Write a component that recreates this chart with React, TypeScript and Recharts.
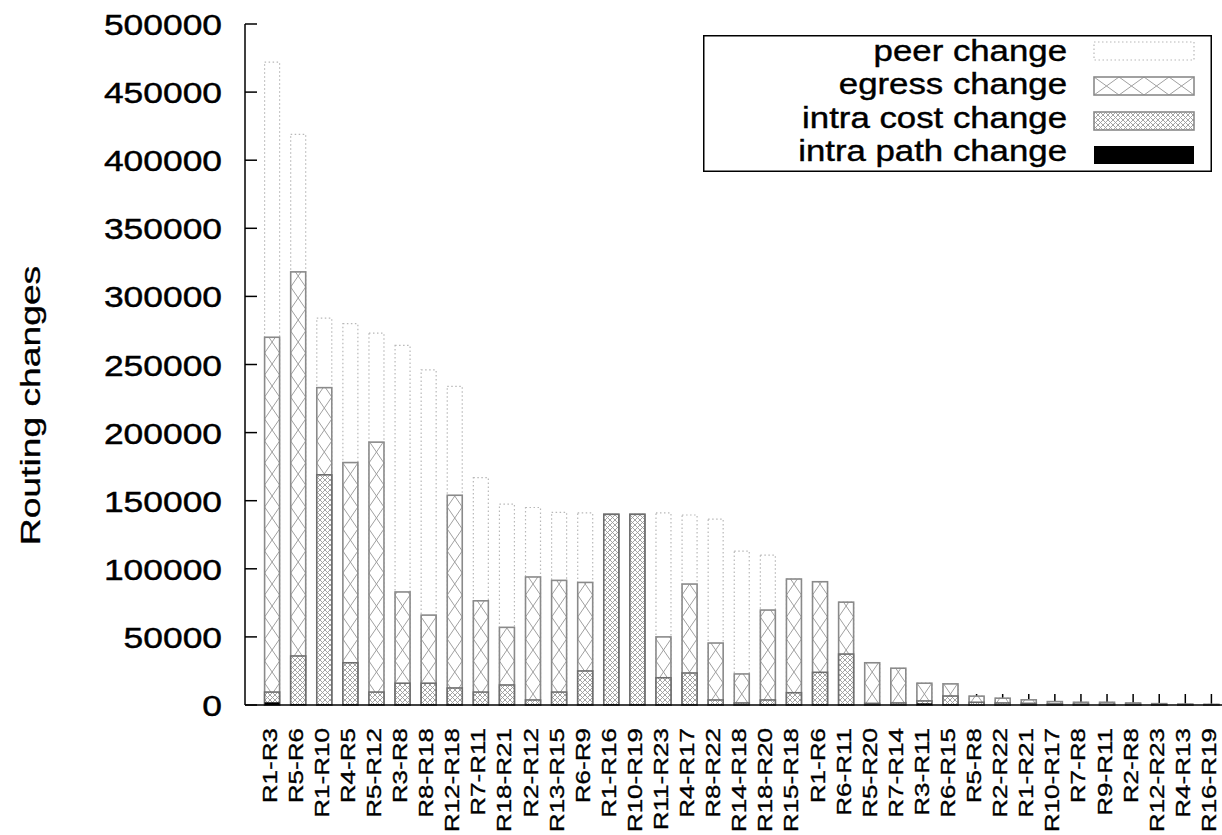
import React from "react"
import { BarChart, Bar, XAxis, YAxis, Legend } from "recharts"

const FONT = "'Liberation Sans', Arial, Helvetica, sans-serif"

const categories = [
  "R1-R3", "R5-R6", "R1-R10", "R4-R5", "R5-R12", "R3-R8", "R8-R18", "R12-R18", "R7-R11",
  "R18-R21", "R2-R12", "R13-R15", "R6-R9", "R1-R16", "R10-R19", "R11-R23", "R4-R17",
  "R8-R22", "R14-R18", "R18-R20", "R15-R18", "R1-R6", "R6-R11", "R5-R20", "R7-R14",
  "R3-R11", "R6-R15", "R5-R8", "R2-R22", "R1-R21", "R10-R17", "R7-R8", "R9-R11",
  "R2-R8", "R12-R23", "R4-R13", "R16-R19",
]

const peerChange = [
  472000, 419000, 284000, 280000, 273000, 264000, 246000, 234000, 167000,
  147500, 145000, 141500, 141000, 140000, 140000, 141000, 139500,
  136500, 113000, 110000, 92500, 90500, 75500, 31000, 27000,
  16000, 15500, 6500, 5000, 3800, 2500, 2000, 2000,
  1500, 1000, 700, 500,
]

const egressChange = [
  270000, 318000, 233000, 178000, 193000, 83000, 66000, 154000, 76500,
  57000, 94000, 91500, 90000, 140000, 140000, 50000, 88800,
  45500, 22800, 69700, 92500, 90500, 75500, 31000, 27000,
  16000, 15500, 6500, 5000, 3800, 2500, 2000, 2000,
  1500, 1000, 700, 500,
]

const intraCostChange = [
  9500, 36000, 169000, 31000, 9500, 16000, 16000, 12500, 9500,
  14700, 3700, 9500, 25000, 140000, 140000, 20000, 23500,
  3700, 1500, 3700, 9000, 24000, 37400, 1200, 1500,
  3000, 6600, 2000, 1500, 1200, 800, 600, 600,
  500, 300, 200, 150,
]

const intraPathChange = [
  2000, 500, 300, 300, 300, 200, 200, 200, 200,
  200, 200, 200, 200, 300, 300, 200, 200,
  200, 200, 200, 200, 200, 200, 200, 200,
  1200, 200, 100, 100, 100, 100, 100, 100,
  100, 100, 100, 100,
]

const yTicks = [0, 50000, 100000, 150000, 200000, 250000, 300000, 350000, 400000, 450000, 500000]

const data = categories.map((name, i) => ({
  name,
  peer: peerChange[i],
  egress: egressChange[i],
  intraCost: intraCostChange[i],
  intraPath: intraPathChange[i],
}))

// big X hatching of the egress bars, cells stacked from the bottom
function xCells(x: number, y: number, w: number, h: number, ch: number, stroke: string) {
  const lines = []
  const yb = y + h
  let k = 0
  for (let t = yb; t > y - ch; t -= ch) {
    lines.push(<line key={"a" + k} x1={x} y1={t} x2={x + w} y2={t - ch} stroke={stroke} strokeWidth={1} />)
    lines.push(<line key={"b" + k} x1={x + w} y1={t} x2={x} y2={t - ch} stroke={stroke} strokeWidth={1} />)
    k++
  }
  return lines
}

function xRowCells(x: number, y: number, w: number, h: number, cw: number, stroke: string) {
  const lines = []
  let k = 0
  for (let s = x; s < x + w; s += cw) {
    lines.push(<line key={"a" + k} x1={s} y1={y + h} x2={s + cw} y2={y} stroke={stroke} strokeWidth={1} />)
    lines.push(<line key={"b" + k} x1={s} y1={y} x2={s + cw} y2={y + h} stroke={stroke} strokeWidth={1} />)
    k++
  }
  return lines
}

// peer bars go first, so the inner x tick is drawn here and the bars on top hide it
const PeerShape = (props: any) => {
  const { x, y, width, height } = props
  if (!height || height <= 0) return null
  const cx = x + width / 2
  const base = y + height
  return (
    <g>
      <line x1={cx} y1={base} x2={cx} y2={base - 11} stroke="#000" strokeWidth={1.5} />
      <rect x={x} y={y} width={width} height={height} fill="none"
        stroke="#b8b8b8" strokeWidth={1.2} strokeDasharray="1.5 2.5" />
    </g>
  )
}

const EgressShape = (props: any) => {
  const { x, y, width, height, index } = props
  if (!height || height <= 0) return null
  const id = `eg-clip-${index}`
  return (
    <g>
      <clipPath id={id}>
        <rect x={x} y={y} width={width} height={height} />
      </clipPath>
      <rect x={x} y={y} width={width} height={height} fill="#fff" />
      <g clipPath={`url(#${id})`}>{xCells(x, y, width, height, 22, "#a0a0a0")}</g>
      <rect x={x} y={y} width={width} height={height} fill="none" stroke="#8a8a8a" strokeWidth={1.6} />
    </g>
  )
}

const IntraCostShape = (props: any) => {
  const { x, y, width, height } = props
  if (!height || height <= 0) return null
  return (
    <g>
      <rect x={x} y={y} width={width} height={height} fill="url(#denseHatch)" />
      <rect x={x} y={y} width={width} height={height} fill="none" stroke="#6e6e6e" strokeWidth={1.6} />
    </g>
  )
}

const BottomTick = (props: any) => {
  const { x, y, payload } = props
  return (
    <text
      transform={`translate(${x + 5},${y + 23}) rotate(-90) scale(1.27,1)`}
      textAnchor="end" fontFamily={FONT} fontSize={20.5} fill="#000"
      stroke="#000" strokeWidth={0.35}
    >
      {payload.value}
    </text>
  )
}

const TopTick = (props: any) => {
  const { x, y } = props
  return <line x1={x} y1={y} x2={x} y2={y + 11} stroke="#000" strokeWidth={1.5} />
}

const LeftTick = (props: any) => {
  const { x, y, payload } = props
  return (
    <g>
      <line x1={x} y1={y} x2={x + 12} y2={y} stroke="#000" strokeWidth={1.5} />
      <text
        transform={`translate(${x - 23},${y + 11}) scale(1.18,1)`}
        textAnchor="end" fontFamily={FONT} fontSize={30} fill="#000"
        stroke="#000" strokeWidth={0.45}
      >
        {payload.value}
      </text>
    </g>
  )
}

const renderYTitle = (props: any) => {
  const vb = props.viewBox || { x: 0, y: 24, width: 245, height: 681 }
  const cy = vb.y + vb.height / 2 + 41
  return (
    <text
      transform={`translate(40,${cy}) rotate(-90) scale(1.38,1)`}
      textAnchor="middle" fontFamily={FONT} fontSize={27} fill="#000"
      stroke="#000" strokeWidth={0.3}
    >
      Routing changes
    </text>
  )
}

const legendRows = [
  { label: "peer change", kind: "peer" },
  { label: "egress change", kind: "egress" },
  { label: "intra cost change", kind: "cost" },
  { label: "intra path change", kind: "path" },
]

function LegendBox() {
  const baselines = [26, 59, 93, 126]
  const swatchY = [7, 42, 77, 111]
  return (
    <svg width={510} height={138} style={{ display: "block" }}>
      <rect x={0.75} y={0.75} width={507.5} height={135.5} fill="#fff" stroke="#000" strokeWidth={1.5} />
      {legendRows.map((r, i) => {
        const sx = 391, sw = 100, sh = 18, sy = swatchY[i]
        let swatch = null
        if (r.kind === "peer") {
          swatch = <rect x={sx} y={sy} width={sw} height={sh} fill="none" stroke="#b8b8b8" strokeWidth={1.2} strokeDasharray="1.5 2.5" />
        } else if (r.kind === "egress") {
          swatch = (
            <g>
              <clipPath id="lg-eg-clip"><rect x={sx} y={sy} width={sw} height={sh} /></clipPath>
              <g clipPath="url(#lg-eg-clip)">{xRowCells(sx, sy, sw, sh, 25, "#a0a0a0")}</g>
              <rect x={sx} y={sy} width={sw} height={sh} fill="none" stroke="#8a8a8a" strokeWidth={1.6} />
            </g>
          )
        } else if (r.kind === "cost") {
          swatch = (
            <g>
              <rect x={sx} y={sy} width={sw} height={sh} fill="url(#denseHatch)" />
              <rect x={sx} y={sy} width={sw} height={sh} fill="none" stroke="#8a8a8a" strokeWidth={1.6} />
            </g>
          )
        } else {
          swatch = <rect x={sx} y={sy} width={sw} height={sh} fill="#000" />
        }
        return (
          <g key={r.label}>
            <text
              transform={`translate(364,${baselines[i]}) scale(1.2,1)`}
              textAnchor="end" fontFamily={FONT} fontSize={29} fill="#000"
              stroke="#000" strokeWidth={0.4}
            >
              {r.label}
            </text>
            {swatch}
          </g>
        )
      })}
    </svg>
  )
}

export default function App() {
  return (
    <div style={{ position: "fixed", left: 0, top: 0, width: 1222, height: 835, overflow: "hidden", background: "#fff" }}>
      <svg width={0} height={0} style={{ position: "absolute" }}>
        <defs>
          <pattern id="denseHatch" patternUnits="userSpaceOnUse" width={5} height={5}>
            <rect x={0} y={0} width={5} height={5} fill="#fff" />
            <path d="M0,0 L5,5 M5,0 L0,5" stroke="#9a9a9a" strokeWidth={0.9} />
          </pattern>
        </defs>
      </svg>
      <BarChart
        width={1240}
        height={835}
        data={data}
        margin={{ top: 24, right: 5, bottom: 0, left: 0 }}
        barSize={15}
        barGap={-15}
      >
        <XAxis
          dataKey="name"
          interval={0}
          height={130}
          padding={{ left: 13.6, right: 11 }}
          tickSize={0}
          tickMargin={0}
          tick={BottomTick}
          axisLine={{ stroke: "#000", strokeWidth: 1.5 }}
        />
        <XAxis
          xAxisId="top"
          orientation="top"
          dataKey="name"
          interval={0}
          height={0}
          padding={{ left: 13.6, right: 11 }}
          tickSize={0}
          tickMargin={0}
          tick={TopTick}
          axisLine={{ stroke: "#000", strokeWidth: 1.5 }}
        />
        <YAxis
          width={245}
          domain={[0, 500000]}
          ticks={yTicks}
          interval={0}
          tickSize={0}
          tickMargin={0}
          tick={LeftTick}
          axisLine={{ stroke: "#000", strokeWidth: 1.5 }}
          label={renderYTitle}
        />
        <Bar dataKey="peer" isAnimationActive={false} shape={PeerShape} />
        <Bar dataKey="egress" isAnimationActive={false} shape={EgressShape} />
        <Bar dataKey="intraCost" isAnimationActive={false} shape={IntraCostShape} />
        <Bar dataKey="intraPath" isAnimationActive={false} fill="#000" />
        <Legend
          layout="vertical"
          align="center"
          verticalAlign="middle"
          wrapperStyle={{ left: 703, top: 35, width: 510, height: 138 }}
          content={() => <LegendBox />}
        />
      </BarChart>
    </div>
  )
}
